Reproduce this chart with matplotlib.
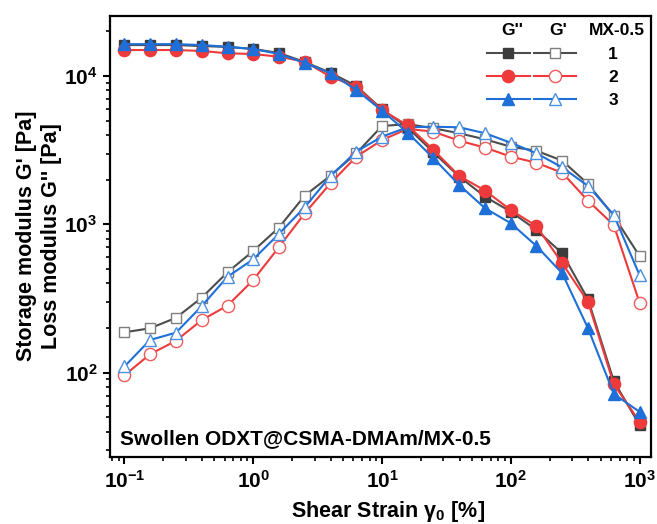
import numpy as np
import matplotlib
matplotlib.use("Agg")
import matplotlib.pyplot as plt
from matplotlib.ticker import FuncFormatter, LogLocator, NullFormatter
from matplotlib.legend_handler import HandlerTuple

plt.rcParams['font.family'] = ['Liberation Sans', 'DejaVu Sans']
plt.rcParams['font.weight'] = 'bold'
plt.rcParams['mathtext.fontset'] = 'custom'
plt.rcParams['mathtext.rm'] = 'Liberation Sans'
plt.rcParams['mathtext.it'] = 'Liberation Sans:italic'
plt.rcParams['mathtext.bf'] = 'Liberation Sans:bold'

# ---- data ----
strain = [0.1, 0.158, 0.251, 0.398, 0.631, 1.0, 1.58, 2.51, 3.98, 6.31, 10,
          15.8, 25.1, 39.8, 63.1, 100, 158, 251, 398, 631, 1000]

loss_1 = [16170, 16170, 16170, 15920, 15700, 15210, 14300, 12430, 10520, 8570, 5960,
          4500, 3050, 2095, 1536, 1216, 917, 637, 312, 87.7, 44.4]
loss_2 = [14970, 14970, 14970, 14750, 14230, 14070, 13490, 12490, 9890, 8470, 5900,
          4650, 3170, 2120, 1687, 1248, 975, 546, 300, 83.4, 46.7]
loss_3 = [16400, 16400, 16400, 16170, 15750, 15210, 14070, 12270, 10430, 8050, 5840,
          4150, 2790, 1840, 1283, 1017, 715, 467, 199, 71.8, 54.4]

stor_1 = [187, 199, 234, 320, 475, 661, 949, 1560, 2128, 3010, 4600,
          4740, 4440, 4110, 3740, 3335, 3134, 2685, 1870, 1137, 611]
stor_2 = [96, 133, 164, 226, 283, 421, 700, 1186, 1890, 2856, 3700,
          4400, 4210, 3660, 3290, 2860, 2600, 2227, 1442, 988, 296]
stor_3 = [110, 166, 186, 281, 443, 581, 861, 1303, 2118, 3090, 3900,
          4510, 4550, 4510, 4110, 3550, 3010, 2420, 1813, 1156, 455]

sample_labels = ['1', '2', '3']
header_labels = ["G''", "G'", "MX-0.5"]

# ---- styles ----
line_cols = ['#4d4d4d', '#ee3a3a', '#1f6fd8']
fill_cols = ['#3c3c3c', '#ee3a3a', '#1f6fd8']
open_edge = ['#7f7f7f', '#ef5a5a', '#4a8fe0']
markers = ['s', 'o', '^']
msize = [7.8, 8.8, 9.3]

W, H = 657, 524
fig = plt.figure(figsize=(W / 100, H / 100), dpi=100)
L, R, T, B = 110, 651, 15.7, 457
ax = fig.add_axes([L / W, 1 - B / H, (R - L) / W, (B - T) / H])

losses = [loss_1, loss_2, loss_3]
stors = [stor_1, stor_2, stor_3]
handles = []
for i in range(3):
    h_open, = ax.plot(strain, stors[i], color=line_cols[i], lw=1.5, marker=markers[i],
                      ms=msize[i], mfc='white', mec=open_edge[i], mew=1.0, zorder=2 + i * 0.1)
    h_fill, = ax.plot(strain, losses[i], color=line_cols[i], lw=1.5, marker=markers[i],
                      ms=msize[i], mfc=fill_cols[i], mec=fill_cols[i], mew=1.0, zorder=3 + i * 0.1)
    handles.append((h_fill, h_open))

ax.set_xscale('log')
ax.set_yscale('log')
ax.set_xlim(10 ** -1.1126, 10 ** 3.089)
ax.set_ylim(10 ** 1.4309, 10 ** 4.4066)

fmt = FuncFormatter(lambda v, p: r'$\mathbf{10^{%d}}$' % int(round(np.log10(v))))
ax.xaxis.set_major_formatter(fmt)
ax.yaxis.set_major_formatter(fmt)
ax.xaxis.set_major_locator(LogLocator(base=10, numticks=10))
ax.yaxis.set_major_locator(LogLocator(base=10, numticks=10))
ax.xaxis.set_minor_locator(LogLocator(base=10, subs=np.arange(2, 10), numticks=10))
ax.yaxis.set_minor_locator(LogLocator(base=10, subs=np.arange(2, 10), numticks=10))
ax.xaxis.set_minor_formatter(NullFormatter())
ax.yaxis.set_minor_formatter(NullFormatter())
ax.tick_params(which='major', direction='out', length=5, width=1.5, labelsize=15, pad=4)
ax.tick_params(which='minor', direction='out', length=2.8, width=1.2)
ax.tick_params(top=False, right=False)
for s in ax.spines.values():
    s.set_linewidth(1.6)

leg = ax.legend(handles, sample_labels, handler_map={tuple: HandlerTuple(ndivide=None, pad=0.23)},
                loc='upper left', bbox_to_anchor=((486.7 - L) / (R - L), (B - 46.5) / (B - T)),
                frameon=False, fontsize=12.5, handlelength=5.17, handletextpad=1.83,
                labelspacing=0.46, borderpad=0, borderaxespad=0)
for t in leg.get_texts():
    t.set_fontweight('bold')

for lab, px in zip(header_labels, [511.7, 558, 616.7]):
    ax.text((px - L) / (R - L), (B - 31) / (B - T), lab, transform=ax.transAxes,
            ha='center', va='center', fontsize=12.5, fontweight='bold')

ax.text((119.6 - L) / (R - L), (B - 443.6) / (B - T), 'Swollen ODXT@CSMA-DMAm/MX-0.5',
        transform=ax.transAxes, ha='left', va='baseline', fontsize=15, fontweight='bold')

fig.text(39 / W, 1 - 236 / H, "Storage modulus G' [Pa]\nLoss modulus G'' [Pa]", rotation=90,
         ha='center', va='center', fontsize=15.5, fontweight='bold', linespacing=1.2)
fig.text(388 / W, 1 - 512 / H, r"Shear Strain $\mathregular{\gamma_0}$ [%]", ha='center', va='center',
         fontsize=15.5, fontweight='bold')

fig.savefig('out.png', dpi=100)
